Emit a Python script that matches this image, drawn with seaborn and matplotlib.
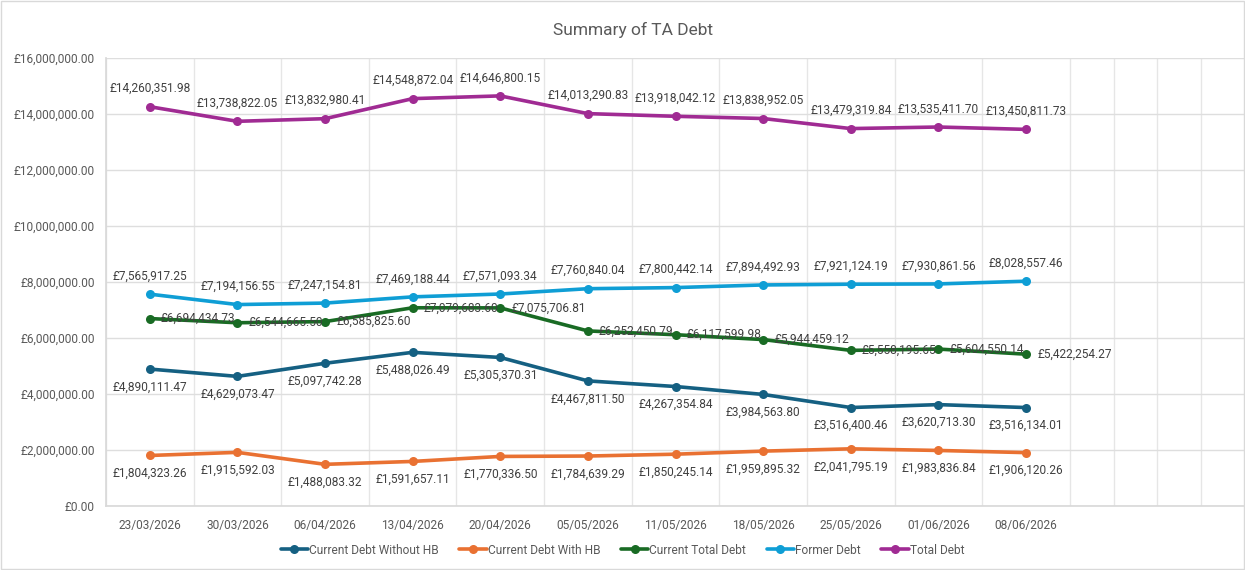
import numpy as np
import pandas as pd
import matplotlib
matplotlib.use("Agg")
import matplotlib.pyplot as plt
from matplotlib.lines import Line2D
from matplotlib.patches import Rectangle
import seaborn as sns

dates = ["23/03/2026", "30/03/2026", "06/04/2026", "13/04/2026", "20/04/2026",
         "05/05/2026", "11/05/2026", "18/05/2026", "25/05/2026", "01/06/2026", "08/06/2026"]
without_hb = [4890111.47, 4629073.47, 5097742.28, 5488026.49, 5305370.31, 4467811.50,
              4267354.84, 3984563.80, 3516400.46, 3620713.30, 3516134.01]
with_hb = [1804323.26, 1915592.03, 1488083.32, 1591657.11, 1770336.50, 1784639.29,
           1850245.14, 1959895.32, 2041795.19, 1983836.84, 1906120.26]
current_total = [6694434.73, 6544665.50, 6585825.60, 7079683.60, 7075706.81, 6252450.79,
                 6117599.98, 5944459.12, 5558195.65, 5604550.14, 5422254.27]
former = [7565917.25, 7194156.55, 7247154.81, 7469188.44, 7571093.34, 7760840.04,
          7800442.14, 7894492.93, 7921124.19, 7930861.56, 8028557.46]
total = [14260351.98, 13738822.05, 13832980.41, 14548872.04, 14646800.15, 14013290.83,
         13918042.12, 13838952.05, 13479319.84, 13535411.70, 13450811.73]

series_names = ["Current Debt Without HB", "Current Debt With HB", "Current Total Debt",
                "Former Debt", "Total Debt"]
series_values = [without_hb, with_hb, current_total, former, total]
colors = ["#156082", "#E97132", "#196B24", "#0F9ED5", "#A02B93"]
label_pos = ["below", "below", "right", "above", "above"]

sns.set_theme(style="white")
plt.rcParams["font.family"] = ["Roboto", "DejaVu Sans"]

rows = []
for name, vals in zip(series_names, series_values):
    for d, v in zip(dates, vals):
        rows.append({"Date": d, "Value": v, "Series": name})
df = pd.DataFrame(rows)

fig = plt.figure(figsize=(12.45, 5.70), dpi=100)
ax = fig.add_axes([106 / 1245, 1 - 506 / 570, 1 - 106 / 1245, (506 - 58) / 570])

sns.lineplot(data=df, x="Date", y="Value", hue="Series", hue_order=series_names,
             palette=colors, marker="o", markersize=6.5, markeredgewidth=0,
             linewidth=2.6, sort=False, legend=False, ax=ax)

ax.set_xlim(-0.5, 12.5)
ax.set_ylim(0, 16000000)
ax.set_yticks(np.arange(0, 16000001, 2000000))
ax.set_yticklabels([f"£{v:,.2f}" for v in np.arange(0, 16000001, 2000000)])
ax.set_xticks(range(len(dates)))
ax.set_xticklabels(dates)
ax.set_xticks(np.arange(-0.5, 12.51, 0.5), minor=True)
ax.grid(True, which="minor", axis="x", color="#E6E6E6", linewidth=1)
ax.grid(True, which="major", axis="y", color="#DEDEDE", linewidth=1)
ax.set_axisbelow(True)
ax.tick_params(axis="both", which="both", length=0, labelsize=8.6, colors="#595959")
ax.tick_params(axis="x", pad=9)
ax.tick_params(axis="y", pad=8)
for s in ["top", "right"]:
    ax.spines[s].set_visible(False)
ax.spines["left"].set_color("#D9D9D9")
ax.spines["bottom"].set_color("#D9D9D9")
ax.set_xlabel("")
ax.set_ylabel("")

for name, vals, pos in zip(series_names, series_values, label_pos):
    for i, v in enumerate(vals):
        txt = f"£{v:,.2f}"
        if pos == "above":
            ax.annotate(txt, (i, v), xytext=(0, 13), textcoords="offset points",
                        ha="center", va="center", fontsize=8.6, color="#404040")
        elif pos == "below":
            ax.annotate(txt, (i, v), xytext=(0, -13), textcoords="offset points",
                        ha="center", va="center", fontsize=8.6, color="#404040")
        else:
            ax.annotate(txt, (i, v), xytext=(8, 0), textcoords="offset points",
                        ha="left", va="center", fontsize=8.6, color="#404040")

fig.text(633 / 1245, 1 - 30 / 570, "Summary of TA Debt", ha="center", va="center",
         fontsize=12.5, color="#595959")

handles = [Line2D([0], [0], color=c, lw=2.6, marker="o", markersize=6.5,
                  markeredgewidth=0) for c in colors]
fig.legend(handles, series_names, loc="center", bbox_to_anchor=(0.5, 1 - 550 / 570),
           ncol=5, frameon=False, fontsize=8.6, labelcolor="#595959",
           handlelength=2.3, handletextpad=0.1, columnspacing=1.7)

fig.patches.append(Rectangle((0.001, 0.001), 0.998, 0.997, transform=fig.transFigure,
                             fill=False, edgecolor="#D9D9D9", linewidth=1))

fig.savefig("out.png", dpi=100, facecolor="white")
